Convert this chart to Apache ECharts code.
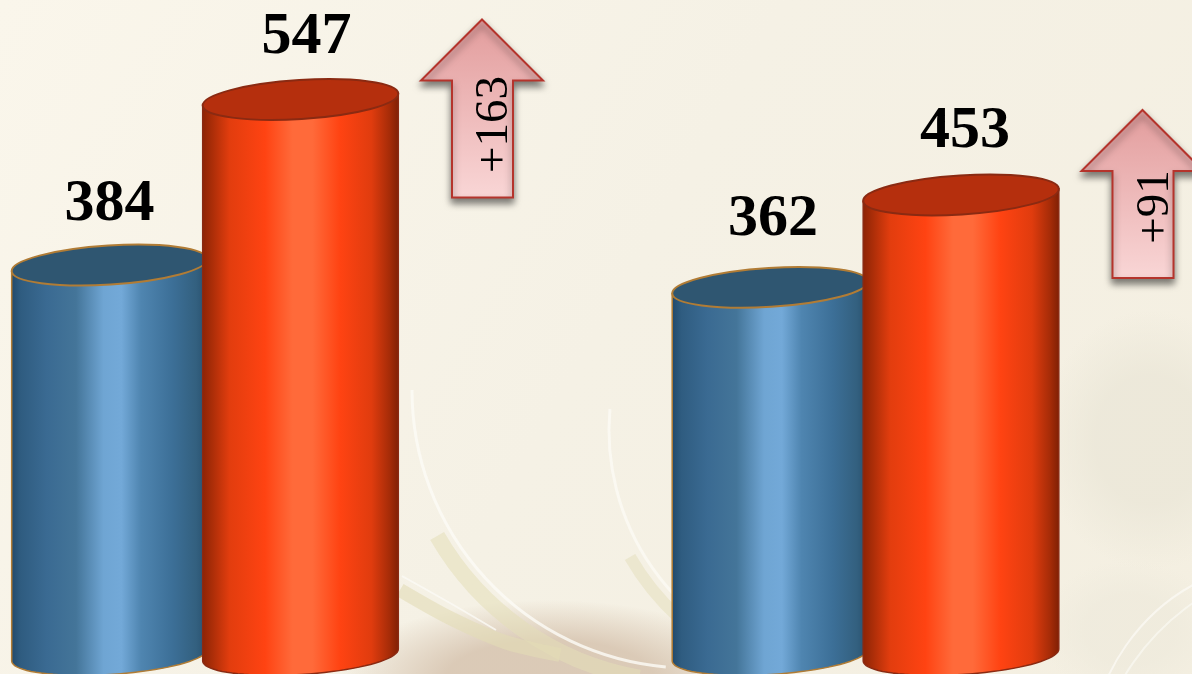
<!DOCTYPE html>
<html><head><meta charset="utf-8">
<style>html,body{margin:0;padding:0;background:#F6F2E6}#c{width:1192px;height:674px}</style>
<script src="https://cdn.jsdelivr.net/npm/echarts@6/dist/echarts.min.js"></script>
</head><body><div id="c"></div>
<script>
const categories = ['A', 'B'];
const blueValues = [384, 362];
const redValues = [547, 453];
const deltaLabels = ['+163', '+91'];

const RX = 98, RY = 19.5, TILT = 3.6 * Math.PI / 180;
const SPREAD = 95.5;
const labelLift = { blue: [61, 68], red: [62, 63] };
const labelShift = { blue: [0, 3], red: [6, 4] };
const arrowLift = [80, 85];
const arrowShift = 277;

const blueStyle = {
  stops: [[0,'#20486A'],[0.05,'#2F5C80'],[0.18,'#3A6A92'],[0.33,'#447599'],[0.47,'#6FA5D3'],[0.56,'#73A9D8'],[0.66,'#4F85B0'],[0.82,'#3C6F97'],[0.94,'#33607F'],[1,'#264E6C']],
  top: '#2F5671', edge: '#B17C35'
};
const redStyle = {
  stops: [[0,'#8C2305'],[0.05,'#A92D08'],[0.14,'#E23D0E'],[0.32,'#FF4312'],[0.46,'#FF6A3A'],[0.56,'#FF6A3A'],[0.7,'#FF4312'],[0.86,'#E03C0E'],[0.95,'#A72C08'],[1,'#7E1F04']],
  top: '#B52F0D', edge: '#8A2A12'
};

function ellipsePt(cx, cy, t) {
  const ex = RX * Math.cos(t), ey = RY * Math.sin(t);
  return [cx + ex * Math.cos(TILT) + ey * Math.sin(TILT), cy - ex * Math.sin(TILT) + ey * Math.cos(TILT)];
}

function cylinder(side, look, key) {
  return function (params, api) {
    const i = api.value(0);
    const topPt = api.coord([i, api.value(1)]);
    const basePt = api.coord([i, 0]);
    const cx = topPt[0] + side * SPREAD;
    const pts = [];
    pts.push(ellipsePt(cx, topPt[1], Math.PI));
    pts.push(ellipsePt(cx, topPt[1], 0));
    for (let k = 0; k <= 40; k++) pts.push(ellipsePt(cx, basePt[1], k / 40 * Math.PI));
    return {
      type: 'group',
      children: [
        { type: 'polygon', shape: { points: pts },
          style: { fill: new echarts.graphic.LinearGradient(0, 0, 1, 0, look.stops.map(s => ({ offset: s[0], color: s[1] }))),
                   stroke: look.edge, lineWidth: 1.5 } },
        { type: 'ellipse', x: cx, y: topPt[1], rotation: TILT, originX: 0, originY: 0,
          shape: { cx: 0, cy: 0, rx: RX, ry: RY },
          style: { fill: look.top, stroke: look.edge, lineWidth: 2 } },
        { type: 'text', x: cx + labelShift[key][i], y: topPt[1] - labelLift[key][i],
          style: { text: String(api.value(1)), font: 'bold 60px "Liberation Serif"', fill: '#000', align: 'center', verticalAlign: 'middle' } }
      ]
    };
  };
}

function arrow(params, api) {
  const i = api.value(0);
  const p = api.coord([i, api.value(1)]);
  const tx = p[0] + arrowShift, ty = p[1] - arrowLift[i];
  const pts = [[tx, ty], [tx + 61, ty + 61], [tx + 31, ty + 61], [tx + 31, ty + 169 + (i ? -1 : 9)], [tx - 30, ty + 169 + (i ? -1 : 9)], [tx - 30, ty + 61], [tx - 61, ty + 61]];
  return {
    type: 'group',
    children: [
      { type: 'polygon', shape: { points: pts },
        style: { fill: new echarts.graphic.LinearGradient(0, 0, 0, 1, [{ offset: 0, color: '#E29C9C' }, { offset: 1, color: '#F9D6D6' }]),
                 stroke: '#B5342C', lineWidth: 2, shadowBlur: 7, shadowOffsetY: 5, shadowColor: 'rgba(0,0,0,0.5)' } },
      { type: 'text', x: tx + 13, y: ty + 105 - (i ? 8 : 0), rotation: Math.PI / 2, originX: 0, originY: 0,
        style: { text: deltaLabels[i], font: '47px "Liberation Serif"', fill: '#000', align: 'center', verticalAlign: 'middle' } }
    ]
  };
}

function soft(rgb, alpha) {
  return new echarts.graphic.RadialGradient(0.5, 0.5, 0.5, [
    { offset: 0, color: `rgba(${rgb},${alpha})` }, { offset: 0.5, color: `rgba(${rgb},${alpha})` }, { offset: 1, color: `rgba(${rgb},0)` }
  ]);
}
function blob(cx, cy, rx, ry, rgb, alpha) {
  return { type: 'circle', z: -9, x: cx, y: cy, scaleX: rx / 100, scaleY: ry / 100, shape: { cx: 0, cy: 0, r: 100 }, style: { fill: soft(rgb, alpha) } };
}
function ringArc(cx, cy, r, a0, a1, stroke, width) {
  return { type: 'arc', z: -7, shape: { cx, cy, r, startAngle: a0 * Math.PI / 180, endAngle: a1 * Math.PI / 180, clockwise: true },
           style: { fill: 'none', stroke, lineWidth: width, lineCap: 'butt' } };
}

const bgGraphics = [
  { type: 'rect', z: -10, shape: { x: 0, y: 0, width: 1192, height: 674 },
    style: { fill: new echarts.graphic.LinearGradient(0, 0, 1, 1, [{ offset: 0, color: '#FAF6EB' }, { offset: 0.5, color: '#F5F1E5' }, { offset: 1, color: '#F4EFE1' }]) } },
  blob(1150, 440, 110, 130, '235,231,216', 0.8),
  blob(550, 680, 210, 80, '216,198,178', 0.9),
  blob(1130, 630, 90, 70, '238,234,220', 0.7),
  ringArc(690, 390, 292, 100, 150, 'rgba(228,222,184,0.55)', 16),
  ringArc(690, 390, 278, 95, 180, 'rgba(252,251,246,0.8)', 3),
  ringArc(850, 430, 254, 115, 150, 'rgba(228,222,186,0.5)', 12),
  ringArc(850, 430, 241, 105, 185, 'rgba(252,251,246,0.75)', 3),
  { type: 'polyline', z: -7, shape: { points: [[400, 590], [450, 618], [505, 642], [560, 655]], smooth: 0.3 }, style: { fill: 'none', stroke: 'rgba(226,220,182,0.6)', lineWidth: 14 } },
  { type: 'polyline', z: -7, shape: { points: [[402, 576], [450, 603], [496, 630]], smooth: 0.3 }, style: { fill: 'none', stroke: 'rgba(251,250,245,0.8)', lineWidth: 2 } },
  ringArc(1290, 760, 200, 180, 250, 'rgba(252,251,246,0.7)', 2),
  ringArc(1330, 800, 240, 180, 250, 'rgba(252,251,246,0.6)', 2)
];

const chart = echarts.init(document.getElementById('c'), null, { renderer: 'canvas', width: 1192, height: 674 });
chart.setOption({
  animation: false,
  backgroundColor: '#F6F2E6',
  graphic: { elements: bgGraphics },
  grid: { left: 205, top: 0, width: 660.5, height: 655 },
  xAxis: { type: 'category', data: categories, show: false, boundaryGap: false },
  yAxis: { type: 'value', min: 0, max: 645, show: false },
  series: [
    { type: 'custom', clip: false, data: blueValues.map((v, i) => [i, v]), renderItem: cylinder(-1, blueStyle, 'blue'), encode: { x: 0, y: 1 } },
    { type: 'custom', clip: false, data: redValues.map((v, i) => [i, v]), renderItem: cylinder(1, redStyle, 'red'), encode: { x: 0, y: 1 } },
    { type: 'custom', clip: false, data: redValues.map((v, i) => [i, v]), renderItem: arrow, encode: { x: 0, y: 1 } }
  ]
});
</script></body></html>
